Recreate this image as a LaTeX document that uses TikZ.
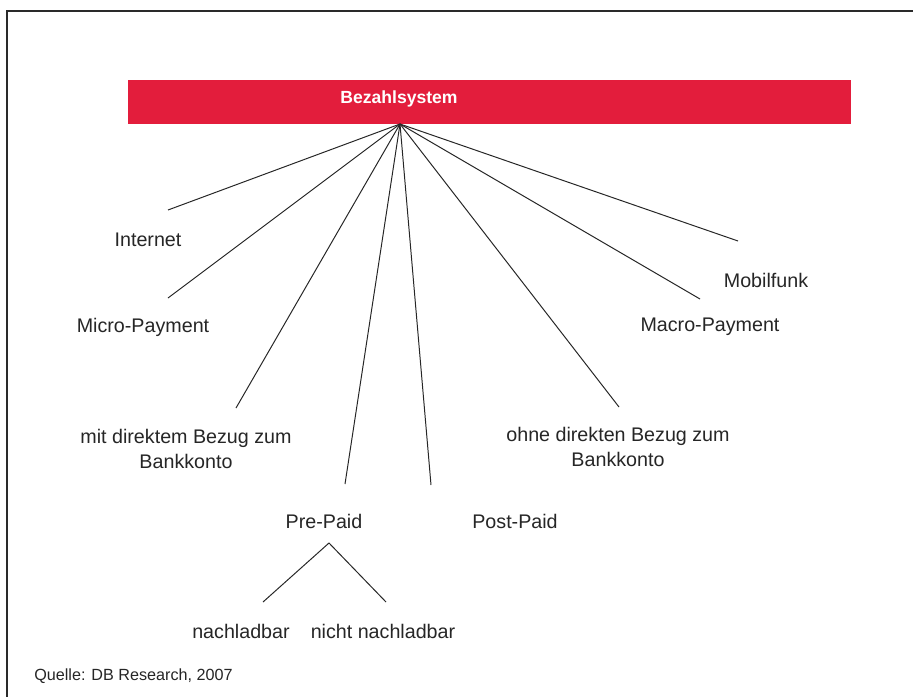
\documentclass[tikz,border=0pt]{standalone}
\usepackage{fontspec}
\setmainfont{Liberation Sans}
\definecolor{dbrot}{HTML}{E31D3C}
\definecolor{rahmen}{HTML}{2A2A2A}
\tikzset{
	lbl/.style={inner sep=0pt,align=center,font=\fontsize{14}{18}\selectfont,text=black!85},
	ast/.style={line width=0.7pt,black!85},
}
\begin{document}
\begin{tikzpicture}[x=0.025cm,y=-0.025cm]
	\useasboundingbox[fill=white] (0,0) rectangle (913,697);
	% Rahmen oben und links
	\draw[rahmen,line width=1.3pt] (913,11) -- (7,11) -- (7,697);
	% Kopfbalken
	\fill[dbrot] (128,80) rectangle (851,124);
	\node[font=\fontsize{12.5}{15}\selectfont\bfseries,text=white] (kopf) at (399,99) {Bezahlsystem};
	\coordinate (hub) at (400,124);
	% Enden der Aeste
	\coordinate (e1) at (168,210);
	\coordinate (e2) at (168,298);
	\coordinate (e3) at (236,408);
	\coordinate (e4) at (345,484);
	\coordinate (e5) at (431,485);
	\coordinate (e6) at (619,407);
	\coordinate (e7) at (700,299);
	\coordinate (e8) at (738,241);
	% Beschriftungen
	\node[lbl] (internet) at (148,240) {Internet};
	\node[lbl] (micro) at (143,327) {Micro-Payment};
	\node[lbl] (mit) at (186,449) {mit direktem Bezug zum\\Bankkonto};
	\node[lbl] (pre) at (324,521) {Pre-Paid};
	\node[lbl] (post) at (515,521) {Post-Paid};
	\node[lbl] (ohne) at (618,447) {ohne direkten Bezug zum\\Bankkonto};
	\node[lbl] (macro) at (710,327) {Macro-Payment};
	\node[lbl] (mobil) at (766,280) {Mobilfunk};
	\draw[ast] (hub) -- (e1);
	\draw[ast] (hub) -- (e2);
	\draw[ast] (hub) -- (e3);
	\draw[ast] (hub) -- (e4);
	\draw[ast] (hub) -- (e5);
	\draw[ast] (hub) -- (e6);
	\draw[ast] (hub) -- (e7);
	\draw[ast] (hub) -- (e8);
	% Pre-Paid Unterteilung
	\coordinate (spitze) at (329,543);
	\coordinate (links) at (263,602);
	\coordinate (rechts) at (386,602);
	\draw[ast] (links) -- (spitze) -- (rechts);
	\node[lbl] (nach) at (241,631) {nachladbar};
	\node[lbl] (nicht) at (383,631) {nicht nachladbar};
	% Quelle
	\node[inner sep=0pt,anchor=west,font=\fontsize{11.5}{14}\selectfont,text=black!85] (quelle) at (34,676) {Quelle: DB Research, 2007};
\end{tikzpicture}
\end{document}
